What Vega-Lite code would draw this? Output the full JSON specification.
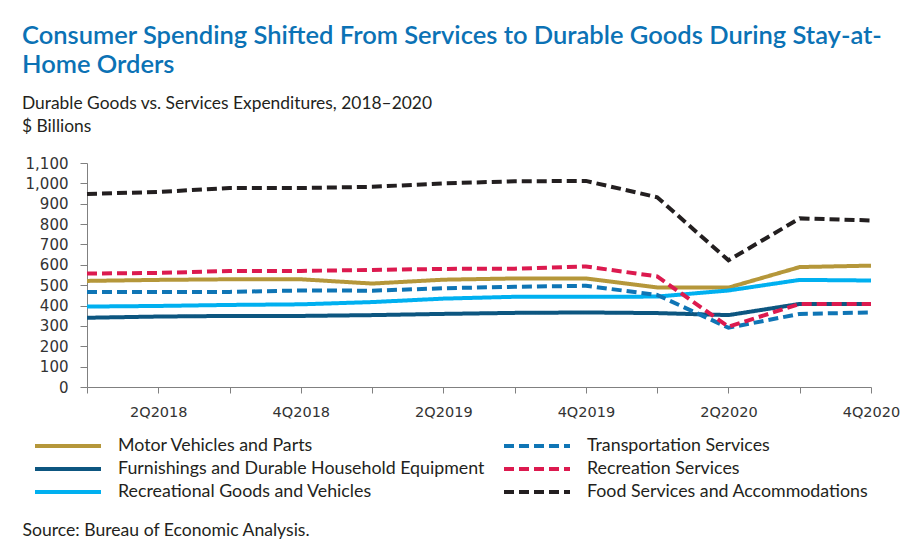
{
  "$schema": "https://vega.github.io/schema/vega-lite/v6.json",
  "width": 784,
  "height": 224,
  "autosize": {"type": "none"},
  "padding": {"left": 87, "top": 163, "right": 40, "bottom": 157},
  "background": "white",
  "title": {
    "text": ["Consumer Spending Shifted From Services to Durable Goods During Stay-at-", "Home Orders"],
    "subtitle": ["Durable Goods vs. Services Expenditures, 2018–2020", "$ Billions"],
    "anchor": "start",
    "frame": "group",
    "dx": -65,
    "offset": 21,
    "font": "Lato",
    "fontSize": 25.5,
    "fontWeight": 600,
    "color": "#0b72b5",
    "lineHeight": 29,
    "subtitleFont": "Lato",
    "subtitleFontSize": 17.4,
    "subtitleColor": "#231f20",
    "subtitleLineHeight": 23,
    "subtitlePadding": 16
  },
  "config": {
    "view": {"stroke": null},
    "legend": {"padding": 0}
  },
  "data": {
    "values": [
      {"q": "1Q2018", "s": "Motor Vehicles and Parts", "v": 521},
      {"q": "2Q2018", "s": "Motor Vehicles and Parts", "v": 526},
      {"q": "3Q2018", "s": "Motor Vehicles and Parts", "v": 529},
      {"q": "4Q2018", "s": "Motor Vehicles and Parts", "v": 529},
      {"q": "1Q2019", "s": "Motor Vehicles and Parts", "v": 508},
      {"q": "2Q2019", "s": "Motor Vehicles and Parts", "v": 527},
      {"q": "3Q2019", "s": "Motor Vehicles and Parts", "v": 533},
      {"q": "4Q2019", "s": "Motor Vehicles and Parts", "v": 533},
      {"q": "1Q2020", "s": "Motor Vehicles and Parts", "v": 489},
      {"q": "2Q2020", "s": "Motor Vehicles and Parts", "v": 488},
      {"q": "3Q2020", "s": "Motor Vehicles and Parts", "v": 589},
      {"q": "4Q2020", "s": "Motor Vehicles and Parts", "v": 596},
      {"q": "1Q2018", "s": "Furnishings and Durable Household Equipment", "v": 340},
      {"q": "2Q2018", "s": "Furnishings and Durable Household Equipment", "v": 346},
      {"q": "3Q2018", "s": "Furnishings and Durable Household Equipment", "v": 349},
      {"q": "4Q2018", "s": "Furnishings and Durable Household Equipment", "v": 349},
      {"q": "1Q2019", "s": "Furnishings and Durable Household Equipment", "v": 353},
      {"q": "2Q2019", "s": "Furnishings and Durable Household Equipment", "v": 359},
      {"q": "3Q2019", "s": "Furnishings and Durable Household Equipment", "v": 364},
      {"q": "4Q2019", "s": "Furnishings and Durable Household Equipment", "v": 366},
      {"q": "1Q2020", "s": "Furnishings and Durable Household Equipment", "v": 363},
      {"q": "2Q2020", "s": "Furnishings and Durable Household Equipment", "v": 353},
      {"q": "3Q2020", "s": "Furnishings and Durable Household Equipment", "v": 408},
      {"q": "4Q2020", "s": "Furnishings and Durable Household Equipment", "v": 408},
      {"q": "1Q2018", "s": "Recreational Goods and Vehicles", "v": 395},
      {"q": "2Q2018", "s": "Recreational Goods and Vehicles", "v": 398},
      {"q": "3Q2018", "s": "Recreational Goods and Vehicles", "v": 403},
      {"q": "4Q2018", "s": "Recreational Goods and Vehicles", "v": 406},
      {"q": "1Q2019", "s": "Recreational Goods and Vehicles", "v": 417},
      {"q": "2Q2019", "s": "Recreational Goods and Vehicles", "v": 434},
      {"q": "3Q2019", "s": "Recreational Goods and Vehicles", "v": 443},
      {"q": "4Q2019", "s": "Recreational Goods and Vehicles", "v": 443},
      {"q": "1Q2020", "s": "Recreational Goods and Vehicles", "v": 444},
      {"q": "2Q2020", "s": "Recreational Goods and Vehicles", "v": 474},
      {"q": "3Q2020", "s": "Recreational Goods and Vehicles", "v": 526},
      {"q": "4Q2020", "s": "Recreational Goods and Vehicles", "v": 523},
      {"q": "1Q2018", "s": "Transportation Services", "v": 467},
      {"q": "2Q2018", "s": "Transportation Services", "v": 467},
      {"q": "3Q2018", "s": "Transportation Services", "v": 467},
      {"q": "4Q2018", "s": "Transportation Services", "v": 474},
      {"q": "1Q2019", "s": "Transportation Services", "v": 473},
      {"q": "2Q2019", "s": "Transportation Services", "v": 485},
      {"q": "3Q2019", "s": "Transportation Services", "v": 492},
      {"q": "4Q2019", "s": "Transportation Services", "v": 497},
      {"q": "1Q2020", "s": "Transportation Services", "v": 452},
      {"q": "2Q2020", "s": "Transportation Services", "v": 291},
      {"q": "3Q2020", "s": "Transportation Services", "v": 359},
      {"q": "4Q2020", "s": "Transportation Services", "v": 366},
      {"q": "1Q2018", "s": "Recreation Services", "v": 557},
      {"q": "2Q2018", "s": "Recreation Services", "v": 560},
      {"q": "3Q2018", "s": "Recreation Services", "v": 570},
      {"q": "4Q2018", "s": "Recreation Services", "v": 570},
      {"q": "1Q2019", "s": "Recreation Services", "v": 575},
      {"q": "2Q2019", "s": "Recreation Services", "v": 580},
      {"q": "3Q2019", "s": "Recreation Services", "v": 581},
      {"q": "4Q2019", "s": "Recreation Services", "v": 592},
      {"q": "1Q2020", "s": "Recreation Services", "v": 543},
      {"q": "2Q2020", "s": "Recreation Services", "v": 296},
      {"q": "3Q2020", "s": "Recreation Services", "v": 408},
      {"q": "4Q2020", "s": "Recreation Services", "v": 408},
      {"q": "1Q2018", "s": "Food Services and Accommodations", "v": 948},
      {"q": "2Q2018", "s": "Food Services and Accommodations", "v": 958},
      {"q": "3Q2018", "s": "Food Services and Accommodations", "v": 977},
      {"q": "4Q2018", "s": "Food Services and Accommodations", "v": 977},
      {"q": "1Q2019", "s": "Food Services and Accommodations", "v": 983},
      {"q": "2Q2019", "s": "Food Services and Accommodations", "v": 1000},
      {"q": "3Q2019", "s": "Food Services and Accommodations", "v": 1010},
      {"q": "4Q2019", "s": "Food Services and Accommodations", "v": 1012},
      {"q": "1Q2020", "s": "Food Services and Accommodations", "v": 932},
      {"q": "2Q2020", "s": "Food Services and Accommodations", "v": 622},
      {"q": "3Q2020", "s": "Food Services and Accommodations", "v": 828},
      {"q": "4Q2020", "s": "Food Services and Accommodations", "v": 818}
    ]
  },
  "mark": {"type": "line", "strokeWidth": 4, "strokeCap": "butt"},
  "encoding": {
    "x": {
      "field": "q",
      "type": "ordinal",
      "sort": null,
      "scale": {"type": "point", "padding": 0, "domain": ["1Q2018","2Q2018","3Q2018","4Q2018","1Q2019","2Q2019","3Q2019","4Q2019","1Q2020","2Q2020","3Q2020","4Q2020"]},
      "axis": {
        "title": "Source: Bureau of Economic Analysis.",
        "titleX": -65,
        "titleY": 148,
        "titleAlign": "left",
        "titleAnchor": "start",
        "titleBaseline": "alphabetic",
        "titleFont": "Lato",
        "titleFontSize": 17.6,
        "titleFontWeight": "normal",
        "titleColor": "#231f20",
        "labelExpr": "(slice(datum.value,0,1)=='2' || slice(datum.value,0,1)=='4') ? datum.value : ''",
        "labelAngle": 0,
        "labelFont": "DejaVu Sans",
        "labelFontSize": 14.5,
        "labelColor": "#333333",
        "labelPadding": 12,
        "tickSize": 6,
        "tickColor": "#808080",
        "domainColor": "#808080",
        "grid": false
      }
    },
    "y": {
      "field": "v",
      "type": "quantitative",
      "scale": {"domain": [0, 1100], "nice": false},
      "axis": {
        "title": null,
        "values": [0,100,200,300,400,500,600,700,800,900,1000,1100],
        "format": ",.0f",
        "labelFont": "DejaVu Sans",
        "labelFontSize": 15,
        "labelColor": "#333333",
        "labelPadding": 12,
        "tickSize": 7,
        "tickColor": "#808080",
        "domainColor": "#808080",
        "grid": false
      }
    },
    "color": {
      "field": "s",
      "type": "nominal",
      "scale": {
        "domain": ["Motor Vehicles and Parts", "Furnishings and Durable Household Equipment", "Recreational Goods and Vehicles", "Transportation Services", "Recreation Services", "Food Services and Accommodations"],
        "range": ["#b5973a", "#0d5680", "#00b0f0", "#0f75b5", "#dc1a4f", "#231f20"]
      },
      "legend": {
        "title": null,
        "orient": "none",
        "legendX": -32,
        "legendY": 270,
        "direction": "vertical",
        "columns": 2,
        "columnPadding": 11,
        "rowPadding": 1,
        "symbolType": "M-3,0L3,0",
        "symbolSize": 484,
        "symbolStrokeWidth": 4,
        "symbolFillColor": "transparent",
        "labelFont": "Lato",
        "labelFontSize": 17.8,
        "labelColor": "#231f20",
        "labelOffset": 37,
        "labelLimit": 500
      }
    },
    "strokeDash": {
      "field": "s",
      "type": "nominal",
      "scale": {
        "domain": ["Motor Vehicles and Parts", "Furnishings and Durable Household Equipment", "Recreational Goods and Vehicles", "Transportation Services", "Recreation Services", "Food Services and Accommodations"],
        "range": [[1, 0], [1, 0], [1, 0], [10, 5], [10, 5], [10, 5]]
      },
      "legend": {
        "title": null,
        "orient": "none",
        "legendX": -32,
        "legendY": 270,
        "direction": "vertical",
        "columns": 2,
        "columnPadding": 11,
        "rowPadding": 1,
        "symbolType": "M-3,0L3,0",
        "symbolSize": 484,
        "symbolStrokeWidth": 4,
        "symbolFillColor": "transparent",
        "labelFont": "Lato",
        "labelFontSize": 17.8,
        "labelColor": "#231f20",
        "labelOffset": 37,
        "labelLimit": 500
      }
    }
  }
}
